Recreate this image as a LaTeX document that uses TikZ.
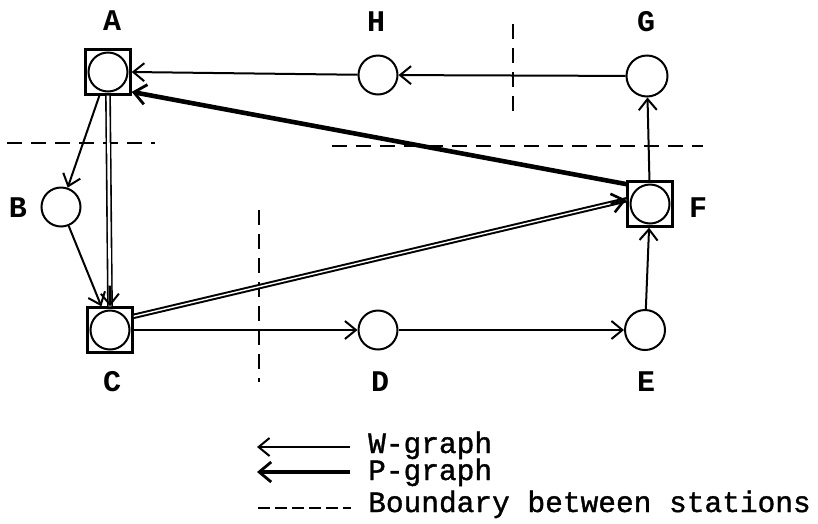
\documentclass[tikz,border=0pt]{standalone}
\usepackage{fontspec}
\newfontfamily\tw{Liberation Mono}
\newfontfamily\twl[FakeBold=1.2]{Liberation Mono}
\usetikzlibrary{arrows.meta}
\tikzset{
 stn/.style={circle, draw, line width=2pt, minimum size=39pt, inner sep=0pt},
 sq/.style={rectangle, draw, line width=2.4pt, minimum size=45pt, inner sep=0pt},
 lbl/.style={font=\tw\bfseries\fontsize{30}{30}\selectfont, inner sep=0pt},
 legtxt/.style={font=\twl\fontsize{29.5}{30}\selectfont, inner sep=0pt, anchor=base west},
 wline/.style={line width=2pt, -{Straight Barb[length=11pt,width=18pt,line width=2pt]}},
 pline/.style={line width=4.6pt, -{Straight Barb[length=12pt,width=20pt,line width=2.8pt]}},
 ptip/.style={line width=2pt, -{Straight Barb[length=12pt,width=19pt,line width=2.6pt]}},
 bnd/.style={line width=2.2pt, dash pattern=on 15pt off 9pt},
}
\begin{document}
\begin{tikzpicture}[x=1pt,y=-1pt]
\useasboundingbox (0,0) rectangle (818,523);
% boundaries
\coordinate (b1a) at (7,143); \coordinate (b1b) at (155,143);
\coordinate (b2a) at (332,146); \coordinate (b2b) at (703,146);
\coordinate (b3a) at (513,24); \coordinate (b3b) at (513,113);
\coordinate (b4a) at (259,210); \coordinate (b4b) at (259,382);
\draw[bnd] (b1a) -- (b1b);
\draw[bnd] (b2a) -- (b2b);
\draw[bnd] (b3a) -- (b3b);
\draw[bnd] (b4a) -- (b4b);
% stations
\node[sq] (Asq) at (108,72) {};
\node[stn] (A) at (108,72) {};
\node[stn] (H) at (378,75) {};
\node[stn, minimum size=41pt] (G) at (647,76) {};
\node[stn] (B) at (61,207) {};
\node[sq] (Fsq) at (650,204) {};
\node[stn] (F) at (650,204) {};
\node[sq] (Csq) at (110,330) {};
\node[stn] (C) at (110,330) {};
\node[stn] (D) at (378,330) {};
\node[stn, minimum size=40pt] (E) at (645,330) {};
% labels
\node[lbl] (lA) at (112,21) {A};
\node[lbl] (lH) at (376,22) {H};
\node[lbl] (lG) at (646,22) {G};
\node[lbl] (lB) at (18,208) {B};
\node[lbl] (lF) at (698,208) {F};
\node[lbl] (lC) at (112,382) {C};
\node[lbl] (lD) at (380,382) {D};
\node[lbl] (lE) at (646,382) {E};
% W-graph
\draw[wline] (H) -- (Asq.east);
\draw[wline] (G) -- (H);
\draw[wline] (Fsq) -- (G);
\draw[wline] (E) -- (Fsq);
\draw[wline] (Csq) -- (D);
\draw[wline] (D) -- (E);
\draw[wline] (Asq.-110) -- (B);
\draw[wline] (B) -- (Csq.110);
% A -> C double
\draw[line width=1.6pt, double, double distance=2.6pt] (Asq.south) -- (Csq.north);
\draw[wline, shorten <=190pt] (Asq.south) -- (Csq.north);
% C -> F
\draw[line width=2pt, double, double distance=1.4pt] (Csq.30) -- (Fsq.170);
\draw[ptip, shorten <=490pt] (Csq.30) -- (Fsq.170);
% F -> A
\draw[pline] (Fsq.140) -- (Asq.-40);
% legend
\coordinate (w1) at (350,447); \coordinate (w2) at (257,447);
\coordinate (p1) at (350,472); \coordinate (p2) at (257,472);
\coordinate (d1) at (258,508); \coordinate (d2) at (351,508);
\draw[wline] (w1) -- (w2);
\draw[pline] (p1) -- (p2);
\draw[line width=2.2pt, dash pattern=on 12pt off 5pt] (d1) -- (d2);
\node[legtxt] (tW) at (368,453) {W-graph};
\node[legtxt] (tP) at (368,480) {P-graph};
\node[legtxt] (tB) at (368,512) {Boundary between stations};
\end{tikzpicture}
\end{document}
